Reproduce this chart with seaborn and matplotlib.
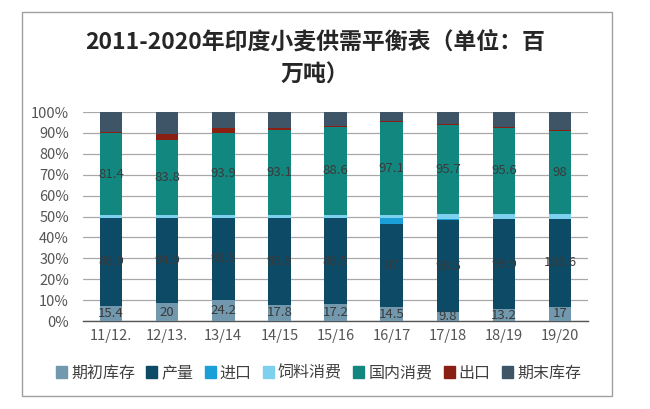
import numpy as np
import pandas as pd
import matplotlib
matplotlib.use('Agg')
import matplotlib.pyplot as plt
import matplotlib.patches as mpatches
import seaborn as sns

# 印度小麦供需平衡 (百万吨)
years = ['11/12.', '12/13.', '13/14', '14/15', '15/16', '16/17', '17/18', '18/19', '19/20']
opening = [15.4, 20, 24.2, 17.8, 17.2, 14.5, 9.8, 13.2, 17]
production = [86.9, 94.9, 93.5, 95.9, 86.5, 87, 98.5, 99.9, 103.6]
imports = [0.02, 0.02, 0.03, 0.03, 0.5, 5.9, 1.6, 0.03, 0.03]
feed = [2.5, 2.6, 3.0, 3.0, 3.0, 3.5, 5.0, 5.5, 6.0]
domestic = [81.4, 83.8, 93.9, 93.1, 88.6, 97.1, 95.7, 95.6, 98]
exports = [0.9, 6.8, 5.6, 2.9, 0.5, 0.3, 0.5, 0.5, 0.5]
ending = [20, 24.2, 17.8, 17.2, 14.5, 9.8, 13.2, 17, 21.4]

series_names = ['期初库存', '产量', '进口', '饲料消费', '国内消费', '出口', '期末库存']
colors = ['#7298AE', '#0C4A66', '#1A9FD9', '#7DD0EE', '#12877F', '#8A1F14', '#3D5567']
labeled = ['期初库存', '产量', '国内消费']

df = pd.DataFrame({'year': years, '期初库存': opening, '产量': production, '进口': imports,
                   '饲料消费': feed, '国内消费': domestic, '出口': exports, '期末库存': ending})

sns.set_style('white')
plt.rcParams['font.family'] = ['Noto Sans CJK SC', 'DejaVu Sans']

fig = plt.figure(figsize=(6.5, 4.09), dpi=100)
ax = fig.add_axes([0.1277, 0.215, 0.777, 0.511])

total = df[series_names].sum(axis=1)
pct = df[series_names].div(total, axis=0)
bottom = np.zeros(len(df))
for name, c in zip(series_names, colors):
    sns.barplot(x=df['year'], y=pct[name], bottom=bottom, color=c, saturation=1,
                width=0.4, ax=ax, zorder=3, linewidth=0)
    if name in labeled:
        for i in range(len(df)):
            ax.text(i, bottom[i] + pct[name][i] / 2, f"{df[name][i]:g}", ha='center', va='center',
                    fontsize=9.5, color='#3A3A3A', zorder=4)
    bottom = bottom + pct[name].values

ax.set_ylim(0, 1)
ax.set_xlim(-0.5, len(years) - 0.5)
ax.set_yticks(np.arange(0, 1.01, 0.1))
ax.set_yticklabels([f"{int(round(v * 100))}%" for v in np.arange(0, 1.01, 0.1)])
ax.yaxis.grid(True, color='#A8A8A8', linewidth=0.9, zorder=0)
ax.set_axisbelow(True)
ax.set_xlabel('')
ax.set_ylabel('')
for s in ['top', 'right', 'left']:
    ax.spines[s].set_visible(False)
ax.spines['bottom'].set_color('#555555')
ax.spines['bottom'].set_linewidth(1.0)
ax.tick_params(axis='both', length=0, labelsize=10.5, labelcolor='#555555', pad=6)
ax.tick_params(axis='y', pad=10)

handles = [mpatches.Patch(color=c, label=n) for n, c in zip(series_names, colors)]
fig.legend(handles=handles, loc='center', bbox_to_anchor=(0.49, 0.088), ncol=7, frameon=False,
           fontsize=11.5, handlelength=0.7, handleheight=0.7, handletextpad=0.25,
           columnspacing=0.7, labelcolor='#404040')

fig.text(0.485, 0.857, '2011-2020年印度小麦供需平衡表（单位：百\n万吨）', ha='center', va='center',
         fontsize=16.5, fontweight='bold', color='#262626', linespacing=1.6)

fig.patches.append(mpatches.Rectangle((0.034, 0.032), 0.908, 0.939, transform=fig.transFigure,
                                      fill=False, edgecolor='#A0A0A0', linewidth=1.0))

fig.savefig('out.png', dpi=100)
